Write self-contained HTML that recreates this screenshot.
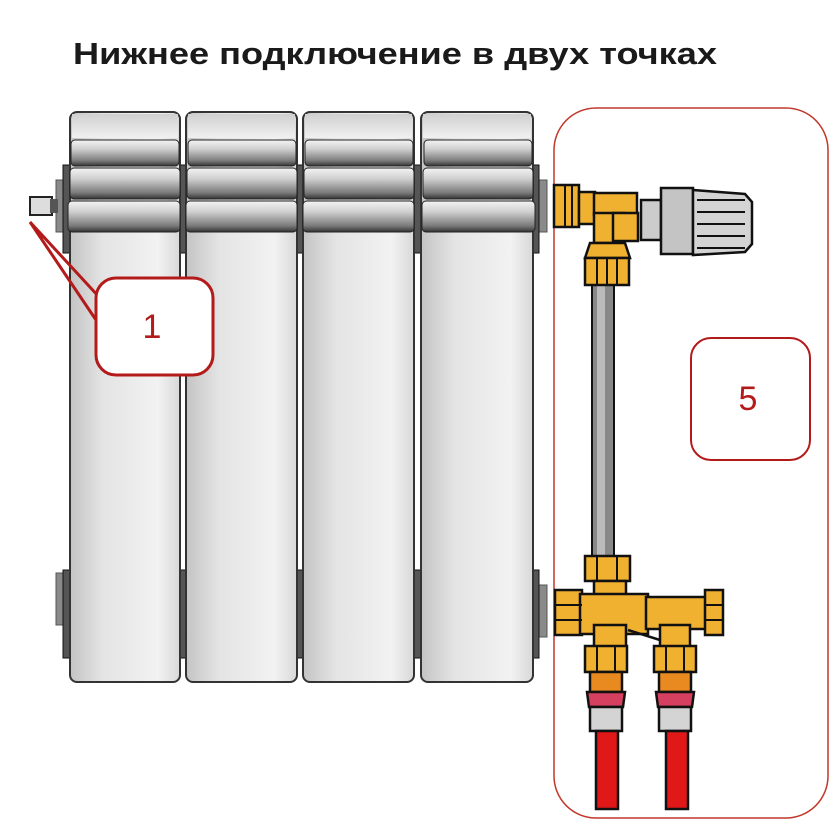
<!DOCTYPE html>
<html><head><meta charset="utf-8"><style>
html,body{margin:0;padding:0;background:#fff;}
svg{display:block}
</style></head><body>
<svg width="836" height="836" viewBox="0 0 836 836" xmlns="http://www.w3.org/2000/svg">
<defs>
<linearGradient id="sec" x1="0" x2="1" y1="0" y2="0">
<stop offset="0" stop-color="#c4c4c4"/><stop offset="0.3" stop-color="#e4e4e4"/><stop offset="0.8" stop-color="#f2f2f2"/><stop offset="1" stop-color="#d8d8d8"/>
</linearGradient>
<linearGradient id="bar" x1="0" x2="0" y1="0" y2="1">
<stop offset="0" stop-color="#f4f4f4"/><stop offset="0.35" stop-color="#cfcfcf"/><stop offset="0.8" stop-color="#7a7a7a"/><stop offset="1" stop-color="#333"/>
</linearGradient>
<linearGradient id="topg" x1="0" x2="0" y1="0" y2="1">
<stop offset="0" stop-color="#d0d0d0"/><stop offset="1" stop-color="#f0f0f0"/>
</linearGradient>
</defs>
<rect width="836" height="836" fill="#fff"/>
<text x="73" y="64" font-family="Liberation Sans, sans-serif" font-weight="bold" font-size="31" fill="#1a1a1a" textLength="644" lengthAdjust="spacingAndGlyphs">Нижнее подключение в двух точках</text>

<!-- red box 5 -->
<rect x="554" y="108" width="274" height="710" rx="42" fill="none" stroke="#c0392b" stroke-width="1.5"/>

<!-- side caps -->
<rect x="56" y="180" width="14" height="52" fill="#8a8a8a" stroke="#555"/>
<rect x="56" y="573" width="14" height="52" fill="#8a8a8a" stroke="#555"/>
<rect x="533" y="180" width="14" height="52" fill="#8a8a8a" stroke="#555"/>
<rect x="533" y="585" width="14" height="52" fill="#8a8a8a" stroke="#555"/>
<!-- air valve -->
<rect x="30" y="197" width="22" height="18" fill="#ddd" stroke="#222" stroke-width="2"/>
<rect x="50" y="199" width="8" height="14" fill="#555"/>

<!-- brackets in gaps -->
<g fill="#555" stroke="#111" stroke-width="1">
<rect x="63" y="165" width="7" height="88"/>
<rect x="180" y="165" width="6" height="88"/>
<rect x="297" y="165" width="6" height="88"/>
<rect x="414" y="165" width="7" height="88"/>
<rect x="533" y="165" width="6" height="88"/>
<rect x="63" y="570" width="7" height="88"/>
<rect x="180" y="570" width="6" height="88"/>
<rect x="297" y="570" width="6" height="88"/>
<rect x="414" y="570" width="7" height="88"/>
<rect x="533" y="570" width="6" height="88"/>
</g>

<!-- sections -->
<g stroke="#333" stroke-width="2">
<rect x="70" y="112" width="110" height="570" rx="7" fill="url(#sec)"/>
<rect x="186" y="112" width="111" height="570" rx="7" fill="url(#sec)"/>
<rect x="303" y="112" width="111" height="570" rx="7" fill="url(#sec)"/>
<rect x="421" y="112" width="112" height="570" rx="7" fill="url(#sec)"/>
</g>
<g fill="url(#topg)" stroke="none">
<rect x="72" y="114" width="106" height="24"/>
<rect x="188" y="114" width="107" height="24"/>
<rect x="305" y="114" width="107" height="24"/>
<rect x="423" y="114" width="108" height="24"/>
</g>
<!-- top bars -->
<g stroke="#222" stroke-width="1" fill="url(#bar)">
<rect x="71" y="140" width="108" height="26" rx="4"/>
<rect x="70" y="168" width="110" height="31" rx="4"/>
<rect x="68" y="201" width="112" height="31" rx="4"/>
<rect x="188" y="140" width="108" height="26" rx="4"/>
<rect x="187" y="168" width="110" height="31" rx="4"/>
<rect x="186" y="201" width="111" height="31" rx="4"/>
<rect x="305" y="140" width="108" height="26" rx="4"/>
<rect x="304" y="168" width="110" height="31" rx="4"/>
<rect x="303" y="201" width="111" height="31" rx="4"/>
<rect x="424" y="140" width="108" height="26" rx="4"/>
<rect x="423" y="168" width="110" height="31" rx="4"/>
<rect x="422" y="201" width="113" height="31" rx="4"/>
</g>

<!-- bubble 1 -->
<path d="M100 298 L30 222 L96 320" fill="none" stroke="#b31b1b" stroke-width="3"/>
<rect x="96" y="278" width="117" height="97" rx="20" fill="#fff" stroke="#b31b1b" stroke-width="3"/>
<text x="152" y="338" font-family="Liberation Sans, sans-serif" font-size="34" fill="#b31b1b" text-anchor="middle">1</text>

<!-- bubble 5 -->
<rect x="691" y="338" width="119" height="122" rx="20" fill="#fff" stroke="#b31b1b" stroke-width="2"/>
<text x="748" y="410" font-family="Liberation Sans, sans-serif" font-size="34" fill="#b31b1b" text-anchor="middle">5</text>

<!-- vertical pipe -->
<rect x="592" y="282" width="22" height="276" fill="#888" stroke="#111" stroke-width="2"/>
<rect x="597" y="282" width="8" height="276" fill="#bbb"/>

<g stroke="#111" stroke-width="2.5" fill="#f0b030">
<!-- top valve -->
<rect x="554" y="185" width="25" height="42"/>
<rect x="579" y="192" width="16" height="32"/>
<rect x="594" y="193" width="43" height="22"/>
<rect x="594" y="213" width="30" height="30"/>
<rect x="613" y="213" width="25" height="28"/>
<path d="M590 243 L625 243 L630 258 L585 258 Z"/>
<rect x="585" y="258" width="44" height="27"/>
<rect x="641" y="200" width="20" height="40" fill="#ccc"/>
<rect x="661" y="188" width="32" height="66" fill="#c4c4c4"/>
<path d="M693 190 L745 194 L752 202 L752 244 L745 252 L693 255 Z" fill="#d4d4d4"/>
<path d="M697 200 L745 200 M697 212 L745 212 M697 224 L745 224 M697 236 L745 236 M697 248 L745 248" stroke-width="2"/>

<!-- bottom assembly -->
<rect x="585" y="556" width="45" height="25"/>
<rect x="594" y="581" width="32" height="14"/>
<rect x="555" y="590" width="27" height="45"/>
<rect x="580" y="594" width="68" height="40"/>
<rect x="646" y="597" width="62" height="32"/>
<rect x="705" y="590" width="18" height="45"/>
<rect x="594" y="625" width="32" height="22"/>
<rect x="660" y="625" width="30" height="22"/>
<path d="M628 630 L660 640" fill="none"/>
<rect x="585" y="646" width="42" height="26"/>
<rect x="654" y="646" width="42" height="26"/>
<rect x="590" y="672" width="32" height="20" fill="#e88a20"/>
<rect x="659" y="672" width="32" height="20" fill="#e88a20"/>
<path d="M587 692 L625 692 L623 707 L589 707 Z" fill="#d64060"/>
<path d="M656 692 L694 692 L692 707 L658 707 Z" fill="#d64060"/>
<rect x="590" y="707" width="32" height="24" fill="#d4d4d4"/>
<rect x="659" y="707" width="32" height="24" fill="#d4d4d4"/>
<rect x="596" y="731" width="22" height="78" fill="#e01818"/>
<rect x="666" y="731" width="22" height="78" fill="#e01818"/>
</g>
<g stroke="#111" stroke-width="2">
<path d="M565 185 V227 M572 185 V227 M597 258 V285 M607 258 V285 M617 258 V285 M597 556 V581 M617 556 V581 M555 605 H582 M555 620 H582 M705 605 H723 M705 620 H723 M597 646 V672 M615 646 V672 M666 646 V672 M684 646 V672"/>
</g>
</svg>
</body></html>
